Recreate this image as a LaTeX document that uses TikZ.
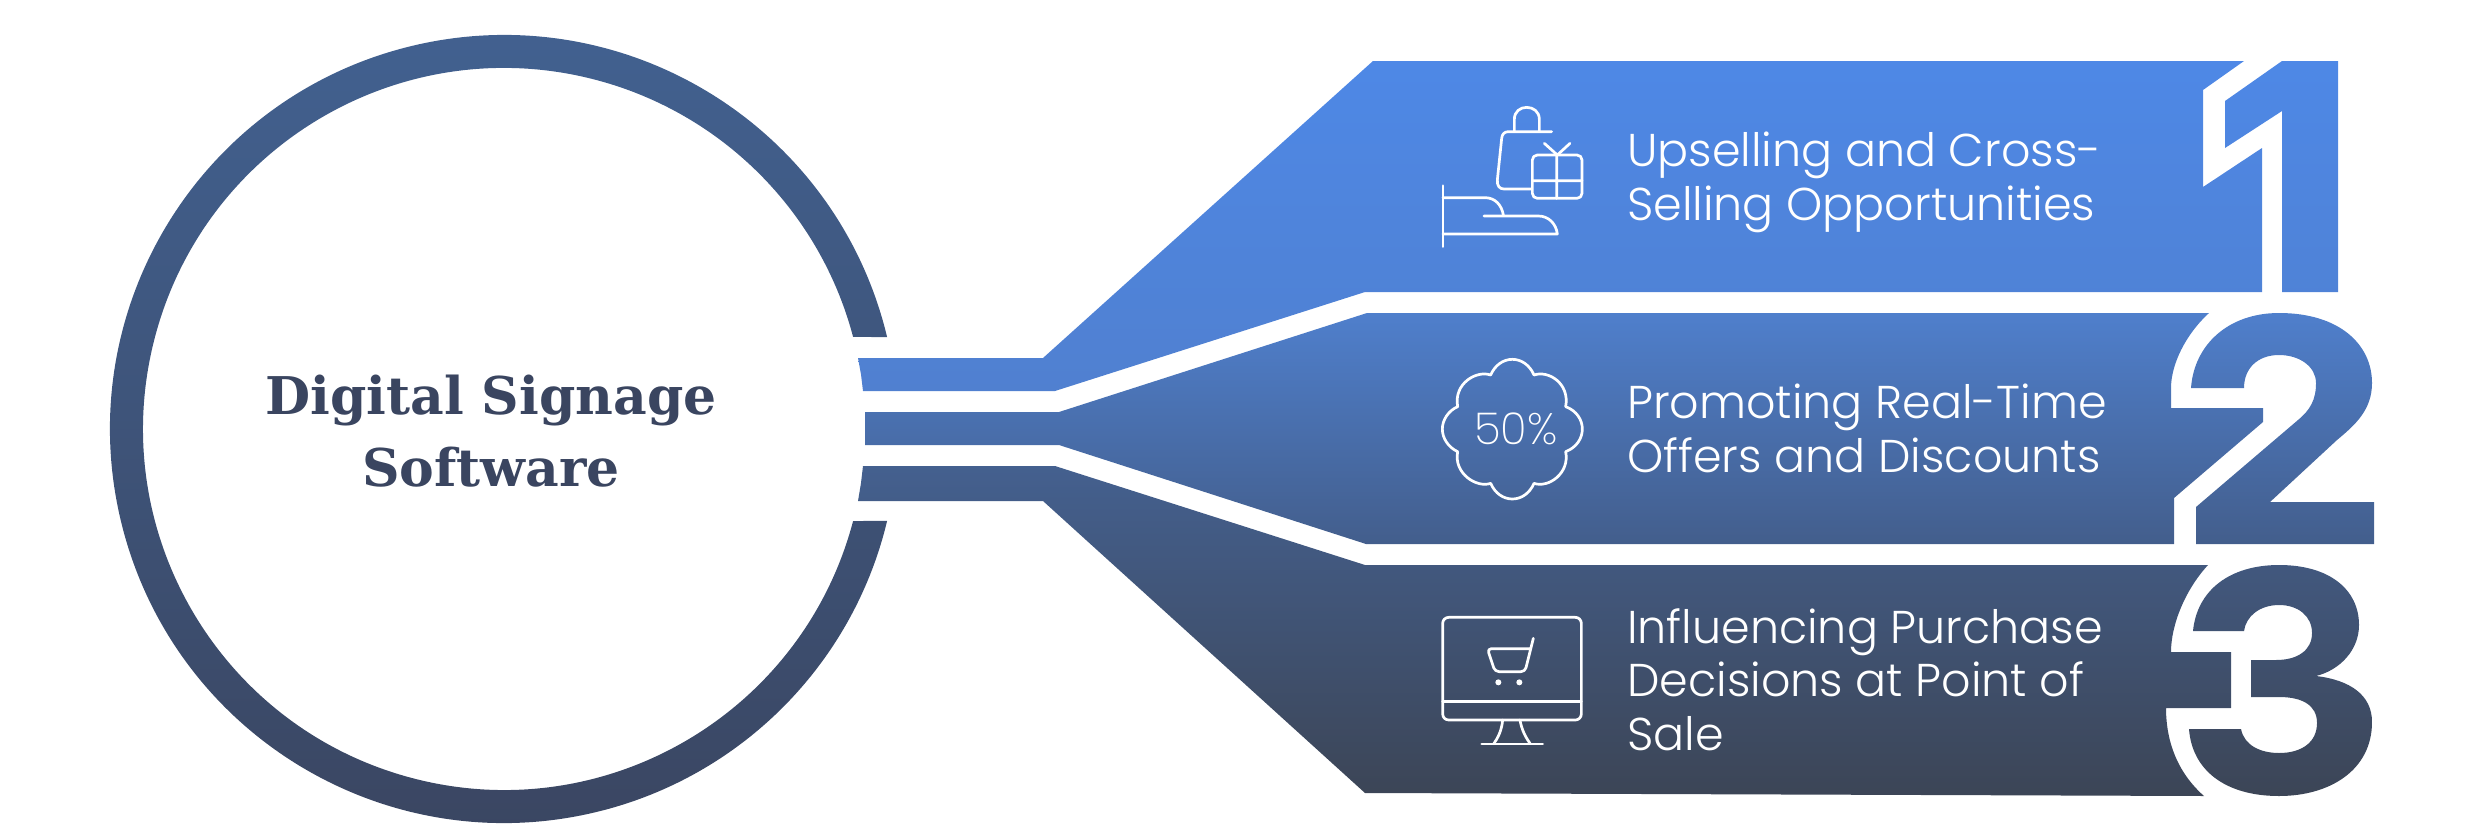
\documentclass[tikz,border=0pt]{standalone}
\usepackage{fontspec}
\setmainfont{Poppins Light}
\newfontfamily\thinfont{Poppins ExtraLight}
\newfontfamily\titlefont{DejaVu Serif}[BoldFont={DejaVu Serif Bold}]
\definecolor{cA}{HTML}{4E88E6}\definecolor{cB}{HTML}{5080D0}
\definecolor{cC}{HTML}{4F7FCC}\definecolor{cD}{HTML}{435E8C}
\definecolor{cE}{HTML}{44608F}\definecolor{cF}{HTML}{3C4556}
\definecolor{ringT}{HTML}{426292}\definecolor{ringB}{HTML}{3A4560}
\definecolor{titlecol}{HTML}{3A4560}
\tikzset{
  icon/.style={draw=white,line width=2.7pt,line cap=round,line join=round},
  icondot/.style={fill=white},
  label/.style={text=white,anchor=north west,align=left,inner sep=0pt,font=\fontsize{46}{53.5}\selectfont},
}
\begin{document}
\begin{tikzpicture}[x=1pt,y=-1pt]
\useasboundingbox (0,0) rectangle (2484,825);
% ring
\shade[top color=ringT,bottom color=ringB]
  (504,429) ++(-13.5:394) arc[start angle=-13.5,end angle=-346.5,radius=394]
  -- (853.1,521) arc[start angle=-345.23,end angle=-14.77,radius=361] -- cycle;
% band 1 + digit 1
\shade[top color=cA,bottom color=cB]
  (858,358) -- (1043,358) -- (1373,61) -- (2244,61) -- (2203,90) -- (2203,187) -- (2262,148) -- (2262,292)
  -- (1365,292) -- (1055,391) -- (863,391) -- (861,374.5) -- cycle
  (2282,61) -- (2338,61) -- (2338,292) -- (2282,292) -- (2282,111) -- (2225,148) -- (2225,101) -- cycle;
% band 2 + digit 2
\shade[top color=cC,bottom color=cD]
  (865,412) -- (1059,412) -- (1367,313) -- (2209,313) .. controls (2185,335) and (2171,365) .. (2171,388)
  -- (2171,408) -- (2263,408) -- (2263,422) -- (2174,498) -- (2174,544) -- (1366,544) -- (1059,445) -- (865,445) -- cycle
  (2191,388) .. controls (2194,345) and (2228,313) .. (2279,313) .. controls (2340,313) and (2372,345) .. (2372,383)
  .. controls (2372,410) and (2355,425) .. (2337,440) -- (2270,502) -- (2374,502) -- (2374,544) -- (2196,544) -- (2196,507)
  -- (2298,420) .. controls (2310,410) and (2316,400) .. (2316,383) .. controls (2316,367) and (2300,355) .. (2279,355)
  .. controls (2258,355) and (2244,368) .. (2244,388) -- cycle;
% band 3 + digit 3
\shade[top color=cE,bottom color=cF]
  (863,466) -- (1055,466) -- (1365,565) -- (2208,565) .. controls (2185,590) and (2171,625) .. (2171,652)
  -- (2231,652) -- (2231,708) -- (2166,708) .. controls (2166,745) and (2180,775) .. (2204,796)
  -- (1365,793) -- (1043,501) -- (858,501) -- (861,483) -- cycle
  (2193,631) .. controls (2197,590) and (2230,565) .. (2279,565) .. controls (2330,565) and (2359,590) .. (2359,625)
  .. controls (2359,650) and (2340,670) .. (2316,676) .. controls (2350,680) and (2372,695) .. (2372,722)
  .. controls (2372,770) and (2330,796) .. (2279,796) .. controls (2225,796) and (2192,770) .. (2189,729)
  -- (2241,729) .. controls (2244,745) and (2260,753) .. (2279,753) .. controls (2302,753) and (2317,742) .. (2317,723)
  .. controls (2317,705) and (2302,697) .. (2279,697) -- (2251,697) -- (2251,660) -- (2276,660)
  .. controls (2298,660) and (2312,650) .. (2312,633) .. controls (2312,616) and (2298,605) .. (2279,605)
  .. controls (2260,605) and (2246,616) .. (2244,631) -- cycle;
% title
\node[text=titlecol,align=center,inner sep=0pt,font=\titlefont\bfseries\fontsize{52}{72}\selectfont] (title) at (491,431) {Digital Signage\\Software};
% labels
\node[label] (lab1) at (1627,132) {Upselling and Cross-\\Selling Opportunities};
\node[label] (lab2) at (1627,384) {Promoting Real-Time\\Offers and Discounts};
\node[label] (lab3) at (1627,608) {Influencing Purchase\\Decisions at Point of\\Sale};
% icon 1
\begin{scope}[shift={(1400,90)},x=1/3*1pt,y=-1/3*1pt]
  \draw[icon] (343,122) -- (343,88) .. controls (343,65) and (360,52) .. (380,52) .. controls (400,52) and (418,65) .. (418,88) -- (418,122);
  \draw[icon] (455,125) -- (325,125) .. controls (313,125) and (306,133) .. (305,145) -- (292,270) .. controls (291,287) and (298,297) .. (312,297) -- (395,297);
  \draw[icon,rounded corners=5pt] (397,195) rectangle (546,325);
  \draw[icon] (470,195) -- (470,325) (397,272) -- (546,272) (433,160) -- (472,195) -- (510,160);
  \draw[icon] (129,287) -- (129,470);
  \draw[icon] (129,323) -- (255,323) .. controls (285,323) and (305,345) .. (310,375);
  \draw[icon] (252,378) -- (415,378) .. controls (445,378) and (468,400) .. (472,432) -- (129,432);
\end{scope}
% icon 2
\begin{scope}[shift={(1420,340)},x=1/3*1pt,y=-1/3*1pt]
  \draw[icon] (212,105) .. controls (225,75) and (250,58) .. (277,58) .. controls (304,58) and (329,75) .. (342,105)
    .. controls (385,90) and (450,130) .. (437,200) .. controls (470,212) and (487,240) .. (487,267)
    .. controls (487,295) and (470,322) .. (437,335) .. controls (450,400) and (385,445) .. (342,430)
    .. controls (329,460) and (304,477) .. (277,477) .. controls (250,477) and (225,460) .. (212,430)
    .. controls (170,445) and (100,400) .. (113,335) .. controls (85,322) and (67,295) .. (67,267)
    .. controls (67,240) and (85,212) .. (113,200) .. controls (100,130) and (170,90) .. (212,105) -- cycle;
  \node[text=white,inner sep=0pt,font=\thinfont\fontsize{44}{44}\selectfont] (fifty) at (288,268) {50\%};
\end{scope}
% icon 3
\begin{scope}[shift={(1420,600)},x=1/3*1pt,y=-1/3*1pt]
  \draw[icon,rounded corners=6pt] (68,52) rectangle (484,360);
  \draw[icon] (68,305) -- (484,305);
  \draw[icon] (248,360) .. controls (245,390) and (235,412) .. (222,430);
  \draw[icon] (300,360) .. controls (305,390) and (317,412) .. (330,430);
  \draw[icon] (185,432) -- (368,432);
  \draw[icon,rounded corners=4pt] (340,115) -- (315,215) -- (225,215) -- (202,146) -- (330,146);
  \fill[icondot] (235,247) circle[radius=9];
  \fill[icondot] (298,247) circle[radius=9];
\end{scope}
\end{tikzpicture}
\end{document}
